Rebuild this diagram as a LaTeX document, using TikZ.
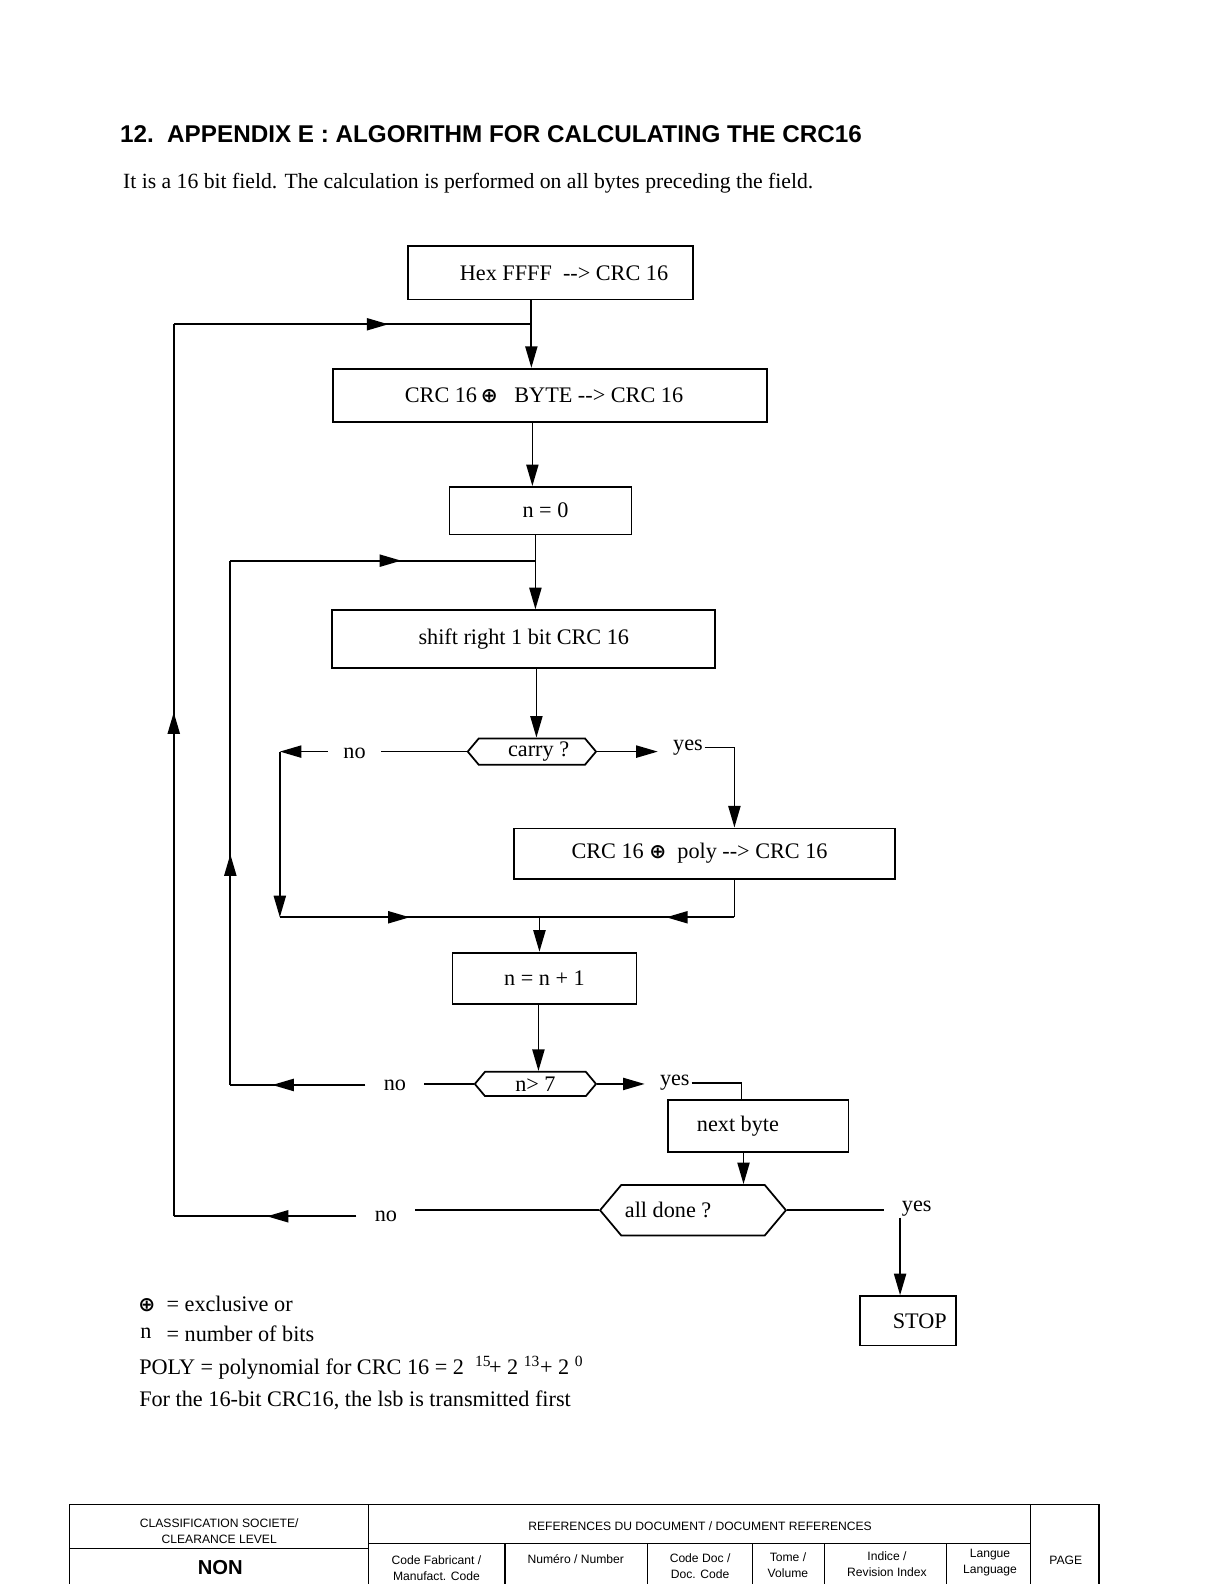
\documentclass[tikz,border=0pt]{standalone}
\usepackage{fontspec}
\setmainfont{Liberation Serif}
\newfontfamily\arialfont{Liberation Sans}
\newfontfamily\symfont{DejaVu Sans}
\usetikzlibrary{arrows.meta,shapes.symbols,decorations.markings}

\newcommand{\xorsign}{{\symfont\bfseries\fontsize{15}{15}\selectfont ⊕}}

\tikzset{every picture/.style={line width=1.3pt}}
\tikzset{
  box/.style={draw, inner sep=0pt, font=\fontsize{16.5}{19}\selectfont},
  hexbox/.style={draw, shape=signal, signal to=east and west, signal pointer angle=100, inner sep=0pt, font=\fontsize{16.5}{19}\selectfont},
  lbl/.style={inner sep=0.75pt, font=\fontsize{16.5}{19}\selectfont},
  arrowto/.style={-{Triangle[length=16pt,width=9pt]}},
  midarrow/.style={postaction={decorate,decoration={markings,mark=at position #1 with {\arrow{Triangle[length=16pt,width=9pt]}}}}},
  foot/.style={inner sep=0.75pt, align=center, font=\arialfont\fontsize{9}{12}\selectfont},
}

\begin{document}
\begin{tikzpicture}[x=0.75pt,y=0.75pt,yscale=-1,xscale=1]
\useasboundingbox (0,0) rectangle (1212,1568);
% Title
\node [anchor=west, inner sep=0pt, font=\arialfont\bfseries\fontsize{18}{22}\selectfont] (title) at (118,133) {12.\ \ APPENDIX E : ALGORITHM FOR CALCULATING THE CRC16};
\node [lbl, anchor=west, font=\fontsize{16.1}{19}\selectfont] (intro) at (120,181) {It is a 16 bit field. The calculation is performed on all bytes preceding the field.};

% Boxes
\node [box, minimum width=211.5pt, minimum height=39.75pt] (hexinit) at (545,270) {\kern20pt Hex FFFF \ -{}-> CRC 16};
\node [box, minimum width=321.75pt, minimum height=39.75pt] (xorbyte) at (544.5,391.5) {CRC 16\,\xorsign\ \ \ BYTE -{}-> CRC 16\kern9pt};
\node [box, minimum width=135pt, minimum height=35.25pt] (nzero) at (535,505.5) {\kern7.5pt n = 0};
\node [box, minimum width=284.25pt, minimum height=42.75pt] (shift) at (518.5,632.5) {shift right 1 bit CRC 16};
\node [hexbox, minimum width=95.25pt, minimum height=19.5pt] (carry) at (526.5,744) {\kern10pt carry ?};
\node [box, minimum width=282.75pt, minimum height=37.5pt] (xorpoly) at (697.5,845) {CRC 16 \xorsign\ \ poly -{}-> CRC 16\kern7.5pt};
\node [box, minimum width=136.5pt, minimum height=38.25pt] (ninc) at (539,968.5) {n = n + 1};
\node [hexbox, minimum width=90pt, minimum height=18pt] (ngt) at (530,1073) {n> 7};
\node [box, minimum width=134.25pt, minimum height=38.25pt] (nextbyte) at (750.5,1114.5) {next byte\kern30pt};
\node [hexbox, minimum width=138pt, minimum height=37.5pt] (alldone) at (686,1198) {all done ?\kern37pt};
\node [box, minimum width=71.25pt, minimum height=36.75pt] (stop) at (898.5,1307.5) {\kern18pt STOP};

% Labels
\node [lbl, inner xsep=11pt] (no1) at (351,746) {no};
\node [lbl] (yes1) at (681,740) {yes};
\node [lbl, inner xsep=13pt] (no2) at (391,1074) {no};
\node [lbl] (yes2) at (668,1072) {yes};
\node [lbl, inner xsep=13pt] (no3) at (382,1204) {no};
\node [lbl, anchor=west] (yes3) at (891,1196) {yes};

% Junctions and corners
\coordinate (j1) at (526,321);
\coordinate (j2) at (530,555);
\coordinate (j3) at (534,908);
\coordinate (c2) at (527,450);
\coordinate (c4) at (531,700);
\coordinate (c6) at (533,1020);
\coordinate (c7) at (736,1150);
\coordinate (k1) at (277,744);
\coordinate (k2) at (277,908);
\coordinate (k3) at (727,740);
\coordinate (k4) at (727,908);
\coordinate (k5) at (228,1074);
\coordinate (k6) at (734,1072);
\coordinate (k7) at (172,1204);

%Straight Lines: main column
\draw [arrowto] (hexinit.south -| j1) -- (xorbyte.north -| j1);
\draw [arrowto] (xorbyte.south -| c2) -- (nzero.north -| c2);
\draw [arrowto] (nzero.south -| j2) -- (shift.north -| j2);
\draw [arrowto] (shift.south -| c4) -- (carry.north -| c4);
\draw [arrowto] (j3) -- (ninc.north -| j3);
\draw [arrowto] (ninc.south -| c6) -- (ngt.north -| c6);
\draw [arrowto] (nextbyte.south -| c7) -- (alldone.north -| c7);

%Straight Lines: carry ?
\draw (carry.west) -- (no1.east |- carry.west);
\draw [arrowto] (no1.west |- k1) -- (k1);
\draw [arrowto] (k1) -- (k2);
\draw [midarrow=0.5] (k2) -- (j3);
\draw [arrowto, shorten >=10pt] (carry.east) -- (yes1.west |- carry.east);
\draw [arrowto] (yes1.east) -- (k3) -- (xorpoly.north -| k3);
\draw (xorpoly.south -| k4) -- (k4);
\draw [midarrow=0.35] (k4) -- (j3);

%Straight Lines: n> 7
\draw (ngt.west) -- (no2.east |- ngt.west);
\draw [midarrow=0.69] (no2.west |- k5) -- (k5);
\draw [midarrow=0.44] (k5) -- (k5 |- j2);
\draw [midarrow=0.56] (k5 |- j2) -- (j2);
\draw [arrowto, shorten >=10pt] (ngt.east) -- (yes2.west |- ngt.east);
\draw (yes2.east) -- (k6) -- (nextbyte.north -| k6);

%Straight Lines: all done ?
\draw (alldone.west) -- (no3.east |- alldone.west);
\draw [midarrow=0.49] (no3.west |- k7) -- (k7);
\draw [midarrow=0.565] (k7) -- (k7 |- j1);
\draw [midarrow=0.6] (k7 |- j1) -- (j1);
\draw [shorten >=12pt] (alldone.east) -- (yes3.west |- alldone.east);
\draw [arrowto] (yes3.south west) -- (yes3.south west |- stop.north);

% Legend
\node [lbl, anchor=west] (xorsym) at (135,1292) {\xorsign};
\node [lbl, anchor=west] (xordef) at (163,1291) {= exclusive or};
\node [lbl, anchor=west] (nsym) at (137,1320) {n};
\node [lbl, anchor=west] (ndef) at (163,1320) {= number of bits};
\node [lbl, anchor=west] (poly) at (136,1354) {POLY = polynomial for CRC 16 = 2 \ \textsuperscript{15}\kern-0.1em+ 2 \textsuperscript{13}+ 2 \textsuperscript{0}};
\node [lbl, anchor=west] (lsb) at (136,1386) {For the 16-bit CRC16, the lsb is transmitted first};

% Footer table
\draw [line width=1pt] (69,1584) -- (69,1489) -- (1088,1489) -- (1088,1584);
\draw [line width=1pt] (365,1489) -- (365,1584);
\draw [line width=1pt] (1020,1489) -- (1020,1584);
\draw [line width=1pt] (69,1533) -- (365,1533);
\draw [line width=1pt] (365,1528) -- (1020,1528);
\foreach \x in {500,641,745,816,937} \draw [line width=1pt] (\x,1528) -- (\x,1584);
% Text Node
\node [foot] (clas) at (217,1516) {CLASSIFICATION SOCIETE/\\CLEARANCE LEVEL};
\node [foot, font=\arialfont\bfseries\fontsize{15}{18}\selectfont] (non) at (218,1552) {NON};
\node [foot] (refs) at (693,1511) {REFERENCES DU DOCUMENT / DOCUMENT REFERENCES};
\node [foot] (fab) at (432,1552) {Code Fabricant /\\Manufact. Code};
\node [foot] (num) at (570,1543) {Numéro / Number};
\node [foot] (cdoc) at (693,1550) {Code Doc /\\Doc. Code};
\node [foot] (tome) at (780,1549) {Tome /\\Volume};
\node [foot] (indice) at (878,1548) {Indice /\\Revision Index};
\node [foot] (langue) at (980,1547) {Langue\\Language};
\node [foot] (page) at (1055,1545) {PAGE};
\end{tikzpicture}
\end{document}
